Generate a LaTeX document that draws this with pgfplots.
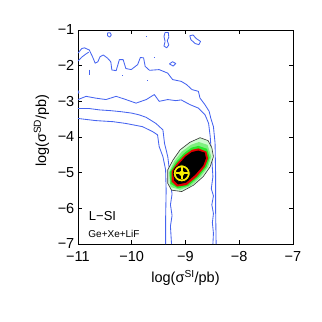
\documentclass[border=0pt]{standalone}
\usepackage{fontspec}
\setmainfont{Liberation Sans}
\usepackage{pgfplots}
\pgfplotsset{compat=1.18}

\definecolor{cblue}{RGB}{70,100,240}
\definecolor{cgreen}{RGB}{40,230,40}
\definecolor{cred}{RGB}{225,0,0}
\definecolor{cyel}{RGB}{250,240,0}

\begin{document}
\begin{tikzpicture}
\begin{axis}[
    scale only axis,
    width=215pt, height=214pt,
    xmin=-11, xmax=-7, ymin=-7, ymax=-1,
    xtick={-11,-10,-9,-8,-7},
    xticklabels={−11,−10,−9,−8,−7},
    ytick={-7,-6,-5,-4,-3,-2,-1},
    yticklabels={−7,−6,−5,−4,−3,−2,−1},
    tick align=inside,
    major tick length=4pt,
    axis line style={line width=0.9pt},
    tick style={line width=0.8pt, black},
    ticklabel style={font=\fontsize{14.5}{16}\selectfont, inner sep=0.5pt},
    xticklabel style={yshift=-6.5pt},
    yticklabel style={xshift=-3pt},
    label style={font=\fontsize{14.5}{16}\selectfont},
    xlabel={log(σ\textsuperscript{SI}/pb)},
    ylabel={log(σ\textsuperscript{SD}/pb)},
    xlabel style={at={(axis description cs:0.5,-0.158)}, anchor=center},
    ylabel style={at={(axis description cs:-0.17,0.53)}, anchor=center},
    every axis plot/.append style={line join=round},
]
% ---- outer (95%) region, upper boundary
\addplot[cblue, line width=0.85pt] coordinates {
 (-11,-1.65) (-10.93,-1.52) (-10.88,-1.50) (-10.79,-1.56) (-10.73,-1.75) (-10.68,-1.93)
 (-10.63,-1.89) (-10.59,-1.75) (-10.53,-1.70) (-10.45,-1.79) (-10.39,-1.89) (-10.37,-2.12)
 (-10.29,-2.14) (-10.23,-1.83) (-10.16,-1.83) (-10.11,-2.08) (-10.01,-2.11) (-9.89,-1.97)
 (-9.84,-1.77) (-9.78,-1.78) (-9.75,-2.02) (-9.67,-2.13) (-9.49,-2.11) (-9.33,-2.21)
 (-9.24,-2.39) (-9.08,-2.44) (-8.98,-2.53) (-8.88,-2.67) (-8.76,-2.72) (-8.73,-2.91)
 (-8.64,-3.09) (-8.56,-3.28) (-8.53,-3.47) (-8.48,-3.71) (-8.45,-4.17) (-8.44,-5.0)
 (-8.44,-6.0) (-8.43,-7)
};
\addplot[cblue, line width=0.85pt] coordinates {
 (-11,-1.87) (-10.93,-1.76) (-10.86,-1.68) (-10.80,-1.62)
};
% ---- outer (95%) region, lower boundary
\addplot[cblue, line width=0.85pt] coordinates {
 (-11,-3.48) (-10.67,-3.54) (-10.35,-3.57) (-10.11,-3.62) (-9.80,-3.71) (-9.61,-3.85)
 (-9.52,-3.94) (-9.49,-4.27) (-9.42,-4.55) (-9.37,-4.92) (-9.36,-5.5) (-9.37,-6.3) (-9.37,-7)
};
% ---- inner (68%) region, upper boundary
\addplot[cblue, line width=0.85pt] coordinates {
 (-11,-2.95) (-10.85,-2.86) (-10.67,-2.91) (-10.48,-2.95) (-10.29,-2.86) (-10.11,-2.95)
 (-9.92,-3.05) (-9.73,-2.95) (-9.58,-2.81) (-9.49,-3.00) (-9.33,-2.95) (-9.18,-2.98)
 (-9.08,-2.96) (-8.92,-3.09) (-8.76,-3.19) (-8.64,-3.37) (-8.61,-3.47) (-8.57,-3.62)
 (-8.54,-3.99) (-8.51,-4.64) (-8.49,-5.11) (-8.52,-5.45) (-8.48,-5.65) (-8.51,-5.9)
 (-8.48,-6.15) (-8.50,-6.4) (-8.48,-6.7) (-8.49,-7)
};
% ---- inner (68%) region, lower boundary
\addplot[cblue, line width=0.85pt] coordinates {
 (-11,-3.20) (-10.8,-3.20) (-10.6,-3.24) (-10.4,-3.26) (-10.2,-3.29) (-10.0,-3.33)
 (-9.86,-3.38) (-9.73,-3.45) (-9.55,-3.62) (-9.42,-3.80) (-9.39,-4.18) (-9.33,-4.55)
 (-9.30,-4.92) (-9.28,-5.3) (-9.25,-5.6) (-9.28,-5.9) (-9.25,-6.2) (-9.28,-6.5) (-9.26,-7)
};
% ---- small islands
\addplot[cblue, line width=0.85pt] coordinates {
 (-10.45,-1.08) (-10.40,-1.08) (-10.38,-1.14) (-10.41,-1.20) (-10.45,-1.16) (-10.45,-1.08)};
\addplot[cblue, line width=0.85pt] coordinates {
 (-9.38,-1.07) (-9.32,-1.07) (-9.31,-1.20) (-9.34,-1.30) (-9.31,-1.42) (-9.35,-1.50)
 (-9.40,-1.45) (-9.38,-1.32) (-9.40,-1.18) (-9.38,-1.07)};
\addplot[cblue, line width=0.85pt] coordinates {
 (-9.30,-1.95) (-9.24,-1.89) (-9.18,-1.94) (-9.23,-2.01) (-9.30,-1.95)};
\addplot[cblue, line width=0.85pt] coordinates {
 (-8.92,-1.16) (-8.86,-1.14) (-8.80,-1.24) (-8.72,-1.32) (-8.75,-1.41) (-8.82,-1.38)
 (-8.90,-1.27) (-8.92,-1.16)};
\addplot[cblue, line width=0.85pt] coordinates {(-10.78,-2.11) (-10.78,-2.26)};
\addplot[cblue, line width=1pt] coordinates {(-9.73,-1.18) (-9.71,-1.18)};
\addplot[cblue, line width=1pt] coordinates {(-9.59,-1.78) (-9.57,-1.78)};
\addplot[cblue, line width=1pt] coordinates {(-10.18,-2.27) (-10.16,-2.27)};
\addplot[cblue, line width=1pt] coordinates {(-9.71,-2.42) (-9.69,-2.42)};
\addplot[cblue, line width=0.85pt] coordinates {(-11,-2.70) (-10.98,-2.74) (-11,-2.78)};
% ---- combined-fit blob
\addplot[draw=black!80, line width=0.6pt, fill=cgreen!22!white] coordinates {
 (-8.73,-4.02) (-8.58,-4.10) (-8.51,-4.30) (-8.48,-4.55) (-8.54,-4.83) (-8.67,-5.11)
 (-8.85,-5.35) (-9.07,-5.53) (-9.26,-5.49) (-9.33,-5.30) (-9.33,-4.92) (-9.23,-4.64)
 (-9.10,-4.36) (-8.92,-4.15)} -- cycle;
\addplot[draw=none, fill=cgreen!60!white] coordinates {
 (-8.75,-4.14) (-8.59,-4.22) (-8.52,-4.55) (-8.58,-4.84) (-8.72,-5.12) (-8.90,-5.37)
 (-9.10,-5.48) (-9.28,-5.40) (-9.31,-5.00) (-9.21,-4.68) (-9.07,-4.41) (-8.90,-4.22)} -- cycle;
\addplot[draw=none, fill=cgreen] coordinates {
 (-8.76,-4.25) (-8.60,-4.33) (-8.55,-4.58) (-8.61,-4.84) (-8.76,-5.12) (-8.95,-5.37)
 (-9.14,-5.44) (-9.28,-5.31) (-9.29,-4.98) (-9.18,-4.71) (-9.03,-4.46) (-8.89,-4.30)} -- cycle;
\addplot[draw=none, fill=cred] coordinates {
 (-8.76,-4.32) (-8.61,-4.41) (-8.58,-4.60) (-8.64,-4.83) (-8.79,-5.11) (-8.98,-5.35)
 (-9.16,-5.39) (-9.26,-5.25) (-9.26,-4.97) (-9.16,-4.74) (-9.01,-4.50) (-8.88,-4.36)} -- cycle;
\addplot[draw=none, fill=black] coordinates {
 (-8.76,-4.38) (-8.64,-4.44) (-8.62,-4.60) (-8.67,-4.80) (-8.82,-5.06) (-8.99,-5.28)
 (-9.14,-5.33) (-9.21,-5.22) (-9.21,-4.98) (-9.13,-4.77) (-9.00,-4.55) (-8.88,-4.42)} -- cycle;
% ---- best-fit point
\addplot[only marks, mark=*, mark size=8.5pt, mark options={fill=cyel, draw=black, line width=0.8pt}]
 coordinates {(-9.07,-5.02)};
\addplot[only marks, mark=*, mark size=5.8pt, mark options={fill=black, draw=black}]
 coordinates {(-9.07,-5.02)};
\addplot[only marks, mark=+, mark size=6pt, mark options={draw=cyel, line width=2pt}]
 coordinates {(-9.07,-5.02)};
\addplot[only marks, mark=*, mark size=2.4pt, mark options={fill=cyel, draw=cyel}]
 coordinates {(-9.07,-5.02)};
\node[anchor=base west, inner sep=0pt, font=\fontsize{13}{15}\selectfont] at (axis cs:-10.80,-6.33) {L−SI};
\node[anchor=base west, inner sep=0pt, font=\fontsize{10}{12}\selectfont] at (axis cs:-10.81,-6.82) {Ge+Xe+LiF};
\end{axis}
\useasboundingbox (-78pt,-78pt) rectangle (244pt,244pt);
\end{tikzpicture}
\end{document}
